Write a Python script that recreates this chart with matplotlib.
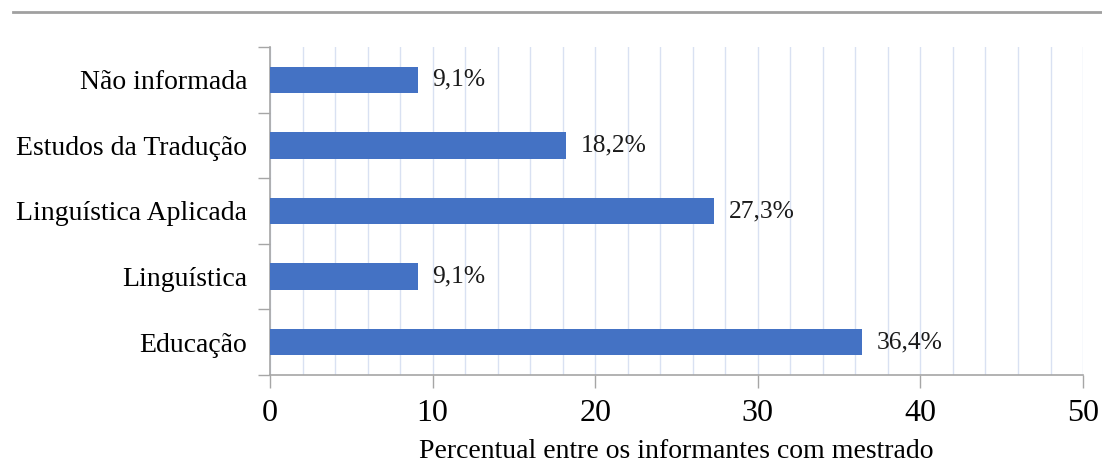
import matplotlib

matplotlib.use("Agg")
import matplotlib.pyplot as plt
from matplotlib.lines import Line2D
from matplotlib.ticker import MultipleLocator

CATEGORIES = ["Educação", "Linguística", "Linguística Aplicada", "Estudos da Tradução", "Não informada"]
VALUES = [36.4, 9.1, 27.3, 18.2, 9.1]
VALUE_LABELS = ["36,4%", "9,1%", "27,3%", "18,2%", "9,1%"]
X_TICKS = [0, 10, 20, 30, 40, 50]

BAR_COLOR = "#4472C4"
GRID_COLOR = "#D9E1F2"
SPINE_COLOR = "#A6A6A6"

plt.rcParams["font.family"] = ["Liberation Serif", "DejaVu Serif"]

fig = plt.figure(figsize=(11.02, 4.65), dpi=100)
ax = fig.add_axes([0.245, 0.1935, 0.7378, 0.7055])

y = list(range(len(CATEGORIES)))
ax.barh(y, VALUES, height=0.4, color=BAR_COLOR, zorder=3)
for yi, v, lab in zip(y, VALUES, VALUE_LABELS):
    ax.text(v + 0.9, yi, lab, va="center", ha="left", fontsize=18.4, color="#1a1a1a")

ax.set_xlim(0, 50)
ax.set_ylim(-0.5, len(CATEGORIES) - 0.5)
ax.set_xticks(X_TICKS)
ax.set_xticklabels([str(t) for t in X_TICKS], fontsize=23)
ax.xaxis.set_minor_locator(MultipleLocator(2))
ax.grid(True, axis="x", which="both", color=GRID_COLOR, linewidth=1, zorder=0)

ax.set_yticks([i - 0.5 for i in range(len(CATEGORIES) + 1)])
ax.set_yticklabels([])
ax.set_yticks(y, minor=True)
ax.set_yticklabels(CATEGORIES, minor=True, fontsize=20)
ax.tick_params(axis="y", which="minor", length=0, pad=16.5)
ax.tick_params(axis="y", which="major", length=9, color=SPINE_COLOR, width=1)
ax.tick_params(axis="x", which="major", length=9, color=SPINE_COLOR, width=1, pad=8)
ax.tick_params(axis="x", which="minor", length=0)

for side in ("top", "right"):
    ax.spines[side].set_visible(False)
for side in ("left", "bottom"):
    ax.spines[side].set_color(SPINE_COLOR)
    ax.spines[side].set_linewidth(1.2)

ax.set_xlabel("Percentual entre os informantes com mestrado", fontsize=20, labelpad=8)

# thin rule across the top of the figure
fig.add_artist(Line2D([13 / 1102, 1.0], [1 - 12 / 465] * 2, color="#A0A0A0", linewidth=2,
                      transform=fig.transFigure))

fig.savefig("out.png", dpi=100)
